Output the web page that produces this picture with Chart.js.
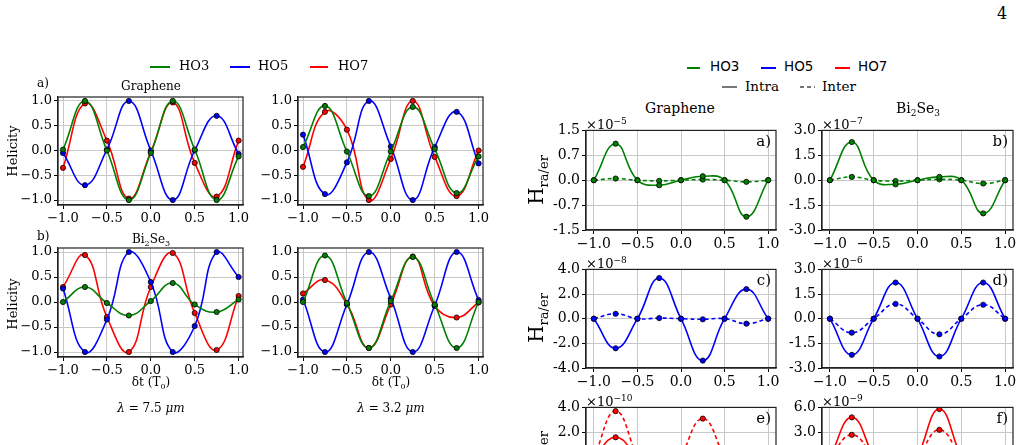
<!DOCTYPE html>
<html><head><meta charset="utf-8">
<script src="https://cdn.jsdelivr.net/npm/chart.js@4"></script>
<style>
body{margin:0;width:1025px;height:445px;overflow:hidden;background:#fff;font-family:"DejaVu Serif",serif;position:relative}
.t{position:absolute;white-space:nowrap;color:#000}
.c{transform:translate(-50%,-50%)}
canvas{position:absolute}
.ln{position:absolute;height:2px}
</style></head><body>
<script>
// ---- data ----
const xs = [-1,-0.75,-0.5,-0.25,0,0.25,0.5,0.75,1];
// left panels (helicity)
const gr75_HO3 = [0.02,1.0,0.0,-1.0,-0.05,1.0,0.02,-1.0,-0.12];
const gr75_HO5 = [-0.05,-0.7,0.02,1.0,0.0,-1.0,0.0,0.7,-0.07];
const gr75_HO7 = [-0.35,0.95,0.2,-0.97,-0.03,0.97,-0.25,-0.93,0.2];
const gr32_HO3 = [0.07,0.9,-0.02,-0.92,-0.02,0.88,0.03,-0.86,-0.12];
const gr32_HO5 = [0.32,-0.88,-0.24,1.0,0.08,-1.0,0.07,0.78,-0.26];
const gr32_HO7 = [-0.33,0.78,0.42,-1.0,-0.17,1.0,-0.13,-0.92,0.0];
const bi75_HO3 = [0.0,0.3,-0.02,-0.27,0.02,0.38,-0.05,-0.2,0.05];
const bi75_HO5 = [0.27,-1.0,-0.35,1.0,0.4,-1.0,-0.48,1.0,0.5];
const bi75_HO7 = [0.3,0.94,-0.3,-1.0,0.3,0.98,-0.22,-0.96,0.12];
const bi32_HO3 = [0.0,0.93,-0.02,-0.92,0.02,0.9,-0.05,-0.92,0.0];
const bi32_HO5 = [0.05,-1.0,-0.05,1.0,0.07,-1.0,-0.07,1.0,0.04];
const bi32_HO7 = [0.17,0.44,-0.04,-0.92,-0.05,0.91,-0.08,-0.31,-0.01];
const helTicks = [-1,-0.5,0,0.5,1];
const xTicks = [-1,-0.5,0,0.5,1];
// right panels (H ra/er, in units of the shown factor)
const a_intra = [0,1.1,0,-0.15,0,0.12,0,-1.1,0];
const a_inter = [0,0.05,0,-0.02,0,0.02,0,-0.05,0];
const b_intra = [0,2.3,0,-0.25,0,0.2,0,-2.0,0];
const b_inter = [0,0.2,0,-0.05,0,0.05,0,-0.2,0];
const c_intra = [0,-2.4,0,3.3,0,-3.4,0,2.4,0];
const c_inter = [0,0.4,0,0.05,0,-0.05,0,-0.4,0];
const d_intra = [0,-2.2,0,2.2,0,-2.3,0,2.2,0];
const d_inter = [0,-0.85,0,0.9,0,-0.95,0,0.85,0];
const e_intra = [0,1.6,0,-1.6,0,-1.4,0,-1.5,0];
const e_inter = [0,3.7,0,-3.5,0,3.1,0,-3.2,0];
const f_intra = [0,4.8,0,-5.0,0,5.8,0,-5.0,0];
const f_inter = [0,2.7,0,-2.8,0,3.3,0,-3.0,0];
const a_ticks = [-1.5,-0.75,0,0.75,1.5], a_lab = ["-1.5","-0.7","0.0","0.7","1.5"];
const b_ticks = [-3,-1.5,0,1.5,3], b_lab = ["-3.0","-1.5","0.0","1.5","3.0"];
const c_ticks = [-4,-2,0,2,4], c_lab = ["-4.0","-2.0","0.0","2.0","4.0"];
const d_ticks = [-3,-1.5,0,1.5,3], d_lab = ["-3.0","-1.5","0.0","1.5","3.0"];
const e_ticks = [-4,-2,0,2,4], e_lab = ["-4.0","-2.0","0.0","2.0","4.0"];
const f_ticks = [-6,-3,0,3,6], f_lab = ["-6.0","-3.0","0.0","3.0","6.0"];

const G='#008000', B='#0000ff', R='#ff0000';
const pts = v => xs.map((x,i)=>({x, y:v[i]}));
function ds(v,col,dash){return {data:pts(v),borderColor:col,backgroundColor:col,borderWidth:1.6,borderDash:dash?[4,3]:[],
  tension:0.45,pointRadius:2.6,pointBorderColor:'#000',pointBackgroundColor:col,pointBorderWidth:0.8};}
function mk(L,T,W,H,xr,yr,yt,ylab,sets,fs){
  const pl=52,pt=10,pr=12,pb=24;
  const cv=document.createElement('canvas');
  cv.style.left=(L-pl)+'px';cv.style.top=(T-pt)+'px';
  cv.style.width=(W+pl+pr)+'px';cv.style.height=(H+pt+pb)+'px';
  cv.width=W+pl+pr;cv.height=H+pt+pb;
  document.body.appendChild(cv);
  const font={family:'DejaVu Serif',size:fs};
  new Chart(cv,{type:'line',data:{datasets:sets},options:{
    responsive:false,animation:false,devicePixelRatio:1,
    layout:{padding:{top:pt,right:pr,left:0,bottom:0}},
    plugins:{legend:{display:false},tooltip:{enabled:false}},
    scales:{
      x:{type:'linear',min:xr[0],max:xr[1],afterBuildTicks:s=>{s.ticks=xTicks.map(v=>({value:v}));},
        afterFit:s=>{s.height=pb;},
        ticks:{font,color:'#000',padding:2,autoSkip:false,maxRotation:0,callback:v=>v.toFixed(1).replace('-','−')},
        grid:{color:'#c8c8c8',tickColor:'#000',tickLength:4},border:{color:'#222',width:1.2}},
      y:{min:yr[0],max:yr[1],afterBuildTicks:s=>{s.ticks=yt.map(v=>({value:v}));},
        afterFit:s=>{s.width=pl;},
        ticks:{font,color:'#000',padding:2,autoSkip:false,callback:(v,i)=>ylab[i]},
        grid:{color:'#c8c8c8',tickColor:'#000',tickLength:4},border:{color:'#222',width:1.2}}
    }},
    plugins:[{id:'frame',afterDraw(c){const a=c.chartArea,x=c.ctx;x.save();x.strokeStyle='#222';x.lineWidth=1.2;x.strokeRect(a.left,a.top,a.right-a.left,a.bottom-a.top);x.restore();}}]
  });
}
const hl=helTicks.map(v=>v.toFixed(1).replace('-','−'));
const lx=[-1.057,1.05], ly=[-1.1,1.08];
mk(58,97,185,108,lx,ly,helTicks,hl,[ds(gr75_HO3,G),ds(gr75_HO5,B),ds(gr75_HO7,R)],13);
mk(298,97,185,108,lx,ly,helTicks,hl,[ds(gr32_HO3,G),ds(gr32_HO5,B),ds(gr32_HO7,R)],13);
mk(58,248,185,109,lx,ly,helTicks,hl,[ds(bi75_HO3,G),ds(bi75_HO5,B),ds(bi75_HO7,R)],13);
mk(298,248,185,109,lx,ly,helTicks,hl,[ds(bi32_HO3,G),ds(bi32_HO5,B),ds(bi32_HO7,R)],13);
const rx=[-1.09,1.09];
mk(586,130,190,100,rx,[-1.5,1.5],a_ticks,a_lab,[ds(a_intra,G),ds(a_inter,G,1)],14);
mk(822,130,191,100,rx,[-3,3],b_ticks,b_lab,[ds(b_intra,G),ds(b_inter,G,1)],14);
mk(586,269,190,99,rx,[-4,4],c_ticks,c_lab,[ds(c_intra,B),ds(c_inter,B,1)],14);
mk(822,269,191,99,rx,[-3,3],d_ticks,d_lab,[ds(d_intra,B),ds(d_inter,B,1)],14);
mk(586,407,190,100,rx,[-4,4],e_ticks,e_lab,[ds(e_intra,R),ds(e_inter,R,1)],14);
mk(822,407,191,100,rx,[-6,6],f_ticks,f_lab,[ds(f_intra,R),ds(f_inter,R,1)],14);

function txt(h,x,y,st,c){const d=document.createElement('div');d.className='t'+(c?' c':'');d.innerHTML=h;d.style.left=x+'px';d.style.top=y+'px';d.style.cssText+=';'+(st||'');document.body.appendChild(d);}
function line(x,y,w,col,dash){const d=document.createElement('div');d.className='ln';d.style.left=x+'px';d.style.top=y+'px';d.style.width=w+'px';
  d.style.background=dash?`repeating-linear-gradient(90deg,${col} 0 4px,transparent 4px 7px)`:col;document.body.appendChild(d);}
// page number
txt('4',997,4,'font-size:16px');
// left legend
line(150,66,20,G);txt('HO3',179,58,'font-size:13px');
line(230,66,20,B);txt('HO5',258,58,'font-size:13px');
line(310,66,18,R);txt('HO7',338,58,'font-size:13px');
txt('a)',37,76,'font-size:12px');txt('Graphene',151,86,'font-size:12px',1);
txt('b)',37,229,'font-size:12px');txt('Bi<sub style="font-size:8px">2</sub>Se<sub style="font-size:8px">3</sub>',151,240,'font-size:12px',1);
txt('Helicity',12,151,'font-size:13px;transform:translate(-50%,-50%) rotate(-90deg)');
txt('Helicity',12,304,'font-size:13px;transform:translate(-50%,-50%) rotate(-90deg)');
txt('δt (T<sub style="font-size:8px">0</sub>)',151,383,'font-size:12px',1);
txt('δt (T<sub style="font-size:8px">0</sub>)',391,383,'font-size:12px',1);
txt('<i>λ</i> = 7.5 <i>μm</i>',151,408,'font-size:12px',1);
txt('<i>λ</i> = 3.2 <i>μm</i>',391,408,'font-size:12px',1);
// right legend
line(687,67,13,G);txt('HO3',710,58,'font-size:13.5px;font-family:\'DejaVu Sans\'');
line(761,67,15,B);txt('HO5',784,58,'font-size:13.5px;font-family:\'DejaVu Sans\'');
line(835,67,15,R);txt('HO7',858,58,'font-size:13.5px;font-family:\'DejaVu Sans\'');
line(722,86,15,'#777');txt('Intra',745,78,'font-size:13.5px');
line(800,86,15,'#777',1);txt('Inter',822,78,'font-size:13.5px');
txt('Graphene',680,108,'font-size:14px',1);
txt('Bi<sub style="font-size:9px">2</sub>Se<sub style="font-size:9px">3</sub>',918,109,'font-size:14px',1);
const sc=[['−5',586,116],['−7',822,116],['−8',586,255],['−6',822,255],['−10',586,393],['−9',822,393]];
sc.forEach(s=>txt('×10<sup style="font-size:9px">'+s[0]+'</sup>',s[1],s[2],'font-size:13px'));
const pl=[['a)',771,132],['b)',1008,132],['c)',771,271],['d)',1008,271],['e)',771,409],['f)',1008,409]];
pl.forEach(p=>txt(p[0],p[1],p[2],'font-size:15px;transform:translateX(-100%)'));
[180,318,456].forEach(y=>txt('H<sub style="font-size:13px">ra/er</sub>',537,y,'font-size:20px;transform:translate(-50%,-50%) rotate(-90deg)'));
</script>
</body></html>
